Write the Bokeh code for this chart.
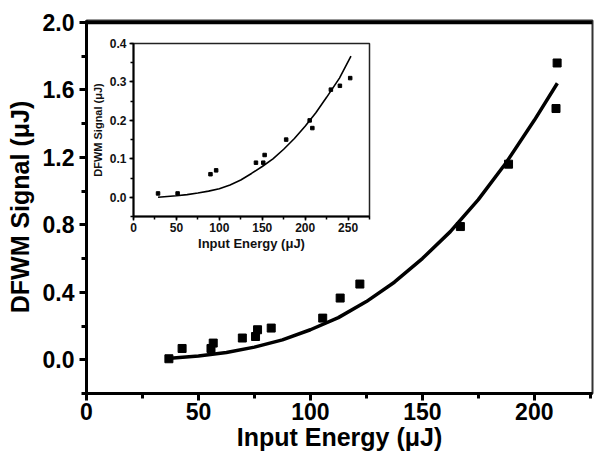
from bokeh.plotting import figure
from bokeh.models import (SingleIntervalTicker, NumeralTickFormatter, LinearAxis,
                          Range1d, Span)
from bokeh.embed import file_html
from bokeh.resources import INLINE

# ---- main data ----
energy = [36.8, 42.7, 55.6, 56.6, 69.6, 75.5, 76.4, 82.5, 105.5, 113.3, 122.1,
          167.0, 188.5, 209.7, 210.2]
signal = [0.006, 0.067, 0.067, 0.099, 0.129, 0.138, 0.178, 0.188, 0.247, 0.366,
          0.449, 0.79, 1.16, 1.49, 1.76]
fit_x = [36, 50, 62.5, 75, 87.5, 100, 112.5, 125, 137.5, 150, 162.5, 175, 187.5, 200, 210.3]
fit_y = [0.008, 0.022, 0.043, 0.075, 0.118, 0.178, 0.25, 0.345, 0.46, 0.60, 0.76,
         0.95, 1.17, 1.42, 1.64]

# ---- inset data ----
in_energy = [28.6, 51.4, 89.7, 96.3, 142.7, 151.2, 152.8, 177.9, 205.3, 208.4,
             230.0, 240.5, 252.5]
in_signal = [0.01, 0.01, 0.06, 0.07, 0.09, 0.09, 0.11, 0.15, 0.20, 0.18,
             0.28, 0.29, 0.31]
in_fit_x = [28.6, 50, 62.5, 75, 87.5, 100, 112.5, 125, 137.5, 150, 162.5, 175,
            187.5, 200, 212.5, 225, 240, 253.4]
in_fit_y = [0.0, 0.004, 0.007, 0.011, 0.016, 0.022, 0.032, 0.045, 0.062, 0.08,
            0.10, 0.125, 0.153, 0.185, 0.22, 0.26, 0.31, 0.367]

Y_TOP = 2.0
FONT = "Liberation Sans"

# ---------------- main figure ----------------
p = figure(width=594, height=453, x_range=Range1d(0, 226), y_range=Range1d(-0.2, 2.012),
           output_backend="svg", toolbar_location=None,
           min_border_left=86, min_border_right=2, min_border_top=20, min_border_bottom=58)
p.outline_line_color = "#333333"
p.outline_line_width = 2
p.grid.visible = False

p.xaxis.ticker = SingleIntervalTicker(interval=50, num_minor_ticks=2)
p.yaxis.ticker = SingleIntervalTicker(interval=0.4, num_minor_ticks=2)
p.yaxis.formatter = NumeralTickFormatter(format="0.0")
p.xaxis.axis_label = "Input Energy (μJ)"
p.yaxis.axis_label = "DFWM Signal (μJ)"
for ax in (p.xaxis[0], p.yaxis[0]):
    ax.axis_line_width = 3
    ax.axis_line_color = "black"
    ax.major_tick_line_width = 3
    ax.minor_tick_line_width = 3
    ax.major_tick_line_color = "black"
    ax.minor_tick_line_color = "black"
    ax.major_tick_in = 0
    ax.major_tick_out = 7
    ax.minor_tick_in = 0
    ax.minor_tick_out = 5
    ax.major_label_text_font = FONT
    ax.major_label_text_font_style = "bold"
    ax.major_label_text_font_size = "23px"
    ax.major_label_text_color = "black"
    ax.axis_label_text_font = FONT
    ax.axis_label_text_font_style = "bold"
    ax.axis_label_text_font_size = "25px"
    ax.axis_label_text_color = "black"
p.xaxis.major_label_standoff = 2
p.xaxis.axis_label_standoff = 0
p.yaxis.major_label_standoff = 5
p.yaxis.axis_label_standoff = 6

# top border line, kept fully inside the frame
p.add_layout(Span(location=Y_TOP, dimension="width", line_color="black", line_width=3.5))

p.line(fit_x, fit_y, line_color="black", line_width=3.5)
p.scatter(energy, signal, marker="square", size=8, fill_color="black", line_color="black")

# ---------------- inset figure ----------------
q = figure(frame_width=236, frame_height=173, x_range=Range1d(0, 275), y_range=Range1d(-0.05, 0.4),
           output_backend="svg", toolbar_location=None,
           min_border_left=43, min_border_right=4, min_border_top=11, min_border_bottom=36)
q.grid.visible = False
q.outline_line_color = "#222222"
q.outline_line_width = 1.5
q.background_fill_color = "white"
q.border_fill_alpha = 0

q.xaxis.ticker = SingleIntervalTicker(interval=50, num_minor_ticks=2)
q.yaxis.ticker = SingleIntervalTicker(interval=0.1, num_minor_ticks=2)
q.yaxis.formatter = NumeralTickFormatter(format="0.0")
q.xaxis.axis_label = "Input Energy (μJ)"
q.yaxis.axis_label = "DFWM Signal (μJ)"
for ax in (q.xaxis[0], q.yaxis[0]):
    ax.axis_line_width = 2
    ax.axis_line_color = "black"
    ax.major_tick_line_width = 1.5
    ax.minor_tick_line_width = 1.5
    ax.major_tick_in = 0
    ax.major_tick_out = 4
    ax.minor_tick_in = 0
    ax.minor_tick_out = 3
    ax.major_label_text_font = FONT
    ax.major_label_text_font_style = "bold"
    ax.major_label_text_font_size = "12px"
    ax.major_label_text_color = "#111111"
    ax.axis_label_text_font = FONT
    ax.axis_label_text_font_style = "bold"
    ax.axis_label_text_color = "#111111"
q.xaxis.axis_label_text_font_size = "13px"
q.yaxis.axis_label_text_font_size = "11px"
q.xaxis.major_label_standoff = 2
q.xaxis.axis_label_standoff = 1
q.yaxis.major_label_standoff = 3
q.yaxis.axis_label_standoff = 3

q.line(in_fit_x, in_fit_y, line_color="black", line_width=1.6)
q.scatter(in_energy, in_signal, marker="square", size=3.5, fill_color="black", line_color="black")

q.styles = {"position": "absolute", "left": "88px", "top": "32px"}

open("out.html", "w").write(file_html([p, q], INLINE))
